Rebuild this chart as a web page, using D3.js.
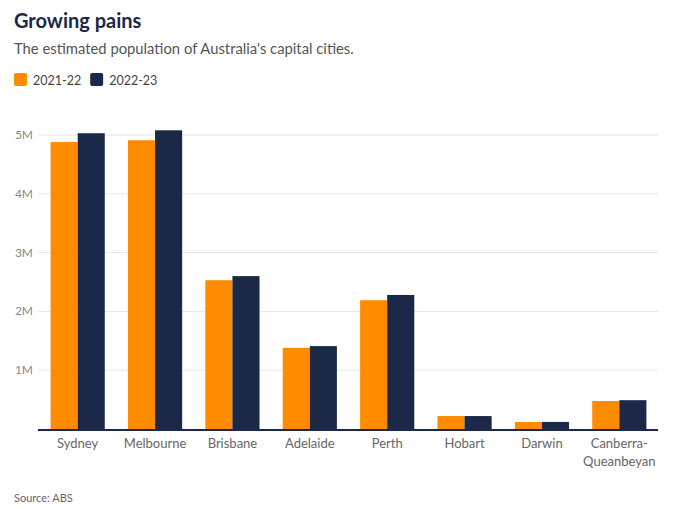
<!DOCTYPE html>
<html>
<head>
<meta charset="utf-8">
<script src="https://cdn.jsdelivr.net/npm/d3@7"></script>
<style>
  body { margin: 0; background: #fff; }
  text { font-family: Lato, "Noto Sans", sans-serif; }
</style>
</head>
<body>
<div id="container"></div>
<script>
var cities = ["Sydney", "Melbourne", "Brisbane", "Adelaide", "Perth", "Hobart", "Darwin", "Canberra-Queanbeyan"]
var seriesNames = ["2021-22", "2022-23"]
var pop2122 = [4.88, 4.91, 2.53, 1.38, 2.19, 0.22, 0.12, 0.476]
var pop2223 = [5.03, 5.08, 2.60, 1.41, 2.28, 0.22, 0.12, 0.49]
var yTicks = [1, 2, 3, 4, 5]
var colours = ["#ff8b00", "#1b2847"]

var width = 678, height = 509
var svg = d3.select("#container").append("svg")
    .attr("width", width)
    .attr("height", height)

var x = d3.scaleBand().domain(cities).range([39, 658]).paddingInner(0.3).paddingOuter(0.15)
var inner = d3.scaleBand().domain(seriesNames).range([0, x.bandwidth()])
var y = d3.scaleLinear().domain([0, 5]).range([429, 135])

// title + subtitle
svg.append("text")
    .attr("x", 14).attr("y", 28)
    .attr("font-size", "20px").attr("font-weight", "bold")
    .attr("fill", "#1b2847")
    .text("Growing pains")

svg.append("text")
    .attr("x", 14).attr("y", 54)
    .attr("font-size", "14.8px")
    .attr("fill", "#555")
    .text("The estimated population of Australia's capital cities.")

// legend
var legend = svg.append("g").attr("transform", "translate(14,73)")
var lx = 0
seriesNames.forEach(function(name, i) {
  legend.append("rect")
      .attr("x", lx).attr("y", 0)
      .attr("width", 13).attr("height", 13)
      .attr("rx", 2)
      .attr("fill", colours[i])
  var t = legend.append("text")
      .attr("x", lx + 19).attr("y", 11.5)
      .attr("font-size", "12.5px")
      .attr("fill", "#444")
      .text(name)
  lx += 19 + t.node().getComputedTextLength() + 9
})

// gridlines
svg.append("g").selectAll("line")
    .data(yTicks)
    .join("line")
    .attr("x1", 38).attr("x2", 658)
    .attr("y1", function(d) { return y(d) }).attr("y2", function(d) { return y(d) })
    .attr("stroke", "#e6e6e6")

svg.append("g").selectAll("text")
    .data(yTicks)
    .join("text")
    .attr("x", 33).attr("y", function(d) { return y(d) + 4 })
    .attr("text-anchor", "end")
    .attr("font-size", "12px")
    .attr("fill", "#888")
    .text(function(d) { return d + "M" })

// bars
var series = [pop2122, pop2223]
series.forEach(function(vals, i) {
  svg.append("g").selectAll("rect")
      .data(vals)
      .join("rect")
      .attr("x", function(d, j) { return x(cities[j]) + inner(seriesNames[i]) })
      .attr("y", function(d) { return y(d) })
      .attr("width", inner.bandwidth())
      .attr("height", function(d) { return y(0) - y(d) })
      .attr("fill", colours[i])
})

// baseline
svg.append("line")
    .attr("x1", 38).attr("x2", 658)
    .attr("y1", y(0) + 1).attr("y2", y(0) + 1)
    .attr("stroke", "#1b2847").attr("stroke-width", 2)

// category labels
var xlab = svg.append("g").selectAll("text")
    .data(cities)
    .join("text")
    .attr("x", function(d) { return x(d) + x.bandwidth() / 2 })
    .attr("y", 448)
    .attr("text-anchor", "middle")
    .attr("font-size", "13px")
    .attr("fill", "#666")

xlab.each(function(d) {
  var parts = d.indexOf("-") > 0 ? [d.split("-")[0] + "-", d.split("-")[1]] : [d]
  var el = d3.select(this)
  parts.forEach(function(p, k) {
    el.append("tspan")
      .attr("x", x(d) + x.bandwidth() / 2)
      .attr("dy", k === 0 ? 0 : 18)
      .text(p)
  })
})

svg.append("text")
    .attr("x", 14).attr("y", 502)
    .attr("font-size", "11px")
    .attr("fill", "#666")
    .text("Source: ABS")
</script>
</body>
</html>
